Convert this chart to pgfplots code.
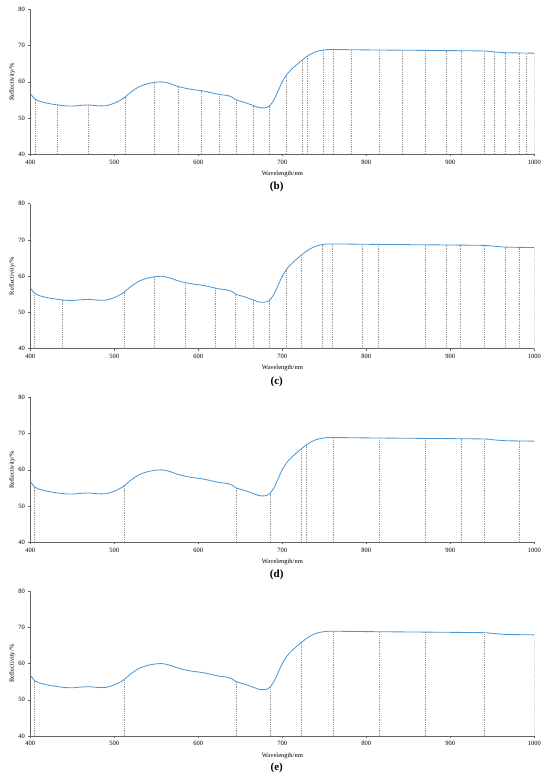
\documentclass[border=0pt]{standalone}
\usepackage{fontspec}
\setmainfont{Liberation Serif}
\usepackage{pgfplots}
\pgfplotsset{compat=1.18}
\usepackage{pgfplotstable}
\definecolor{curve}{RGB}{78,152,212}
\definecolor{axgray}{RGB}{100,100,100}
\definecolor{dashgray}{RGB}{150,150,150}

\pgfplotstableread{
x y
400 56.8
405 55.3
410 54.7
420 54.1
430 53.7
440 53.4
450 53.3
460 53.5
470 53.6
480 53.4
490 53.4
500 54.1
510 55.3
520 57.2
530 58.7
540 59.5
550 59.9
556 60.0
565 59.6
575 58.8
585 58.2
595 57.8
605 57.5
615 57.0
625 56.5
635 56.2
640 55.8
645 55.0
655 54.3
665 53.5
672 52.9
678 52.8
684 53.2
690 55.0
695 57.5
700 60.0
705 61.9
710 63.2
720 65.3
730 67.1
740 68.3
750 68.8
760 68.9
800 68.8
850 68.7
900 68.6
940 68.5
950 68.3
960 68.1
970 68.0
1000 67.9
}\spectrum

\pgfplotsset{panel/.style={
  scale only axis, width=504pt, height=145pt,
  xmin=400, xmax=1000, ymin=40, ymax=80,
  axis lines=left, axis line style={-, axgray, line width=0.6pt},
  xtick={400,500,...,1000}, ytick={40,50,...,80},
  tick style={axgray, line width=0.5pt}, tick align=outside, major tick length=2pt,
  ticklabel style={font=\fontsize{6.5}{7}\selectfont},
  /pgf/number format/assume math mode=true,
  /pgf/number format/1000 sep={},
  xlabel={Wavelength/nm}, ylabel={Reflectivity/\%},
  label style={font=\fontsize{6.5}{7}\selectfont},
  ylabel shift=-4pt,
  anchor=south west,
},
comb/.style={ycomb, draw=dashgray, line width=0.35pt, dash pattern=on 1.2pt off 1pt, mark=none},
spec/.style={curve, line width=0.85pt, smooth, mark=none}
}

\begin{document}
\begin{tikzpicture}
\useasboundingbox (0,0) rectangle (550pt,781pt);

% (b)
\begin{axis}[panel, at={(30.3pt,626.7pt)}]
\addplot[comb] coordinates {(405.6,55.2) (432.5,53.6) (468.7,53.6) (512.7,55.8) (548,59.8) (576.5,58.7) (604,57.5) (624.6,56.5) (644.9,55.0) (665.8,53.4) (684.9,53.4) (704.8,61.8) (723.4,65.9) (729.4,67.0) (748.4,68.7) (760.7,68.9) (782.5,68.85) (815.1,68.8) (842.5,68.7) (870.6,68.7) (895.6,68.6) (912.7,68.6) (940.5,68.5) (952.7,68.25) (965.8,68.05) (982.5,67.95) (990.8,67.9) (1000,67.9)};
\addplot[spec] table[x=x,y=y] {\spectrum};
\end{axis}

% (c)
\begin{axis}[panel, at={(30.3pt,432.3pt)}]
\addplot[comb] coordinates {(405.1,55.3) (437.7,53.5) (511.9,55.7) (548,59.8) (584.2,58.3) (620.2,56.8) (644.4,55.1) (665.1,53.5) (684.5,53.3) (704.8,61.8) (723,65.8) (748,68.7) (759.9,68.9) (795.2,68.8) (814.7,68.8) (869.9,68.7) (895.6,68.6) (912.3,68.6) (940.1,68.5) (965.5,68.05) (982.5,67.95) (1000,67.9)};
\addplot[spec] table[x=x,y=y] {\spectrum};
\end{axis}

% (d)
\begin{axis}[panel, at={(30.3pt,238.7pt)}]
\addplot[comb] coordinates {(405,55.3) (512,55.7) (645,55.0) (685,53.4) (723,65.8) (729,67.0) (760,68.9) (815,68.8) (870,68.7) (912.7,68.6) (940.5,68.5) (982.5,67.95)};
\addplot[spec] table[x=x,y=y] {\spectrum};
\end{axis}

% (e)
\begin{axis}[panel, at={(30.3pt,45pt)}]
\addplot[comb] coordinates {(405,55.3) (512,55.7) (645,55.0) (685,53.4) (723,65.8) (760,68.9) (815,68.8) (870,68.7) (940,68.5) (1000,67.9)};
\addplot[spec] table[x=x,y=y] {\spectrum};
\end{axis}

\node[font=\bfseries\fontsize{11}{13}\selectfont] at (276.7pt,593.7pt) {(b)};
\node[font=\bfseries\fontsize{11}{13}\selectfont] at (276.7pt,399.3pt) {(c)};
\node[font=\bfseries\fontsize{11}{13}\selectfont] at (276.7pt,206pt) {(d)};
\node[font=\bfseries\fontsize{11}{13}\selectfont] at (276.7pt,12.7pt) {(e)};
\end{tikzpicture}
\end{document}
